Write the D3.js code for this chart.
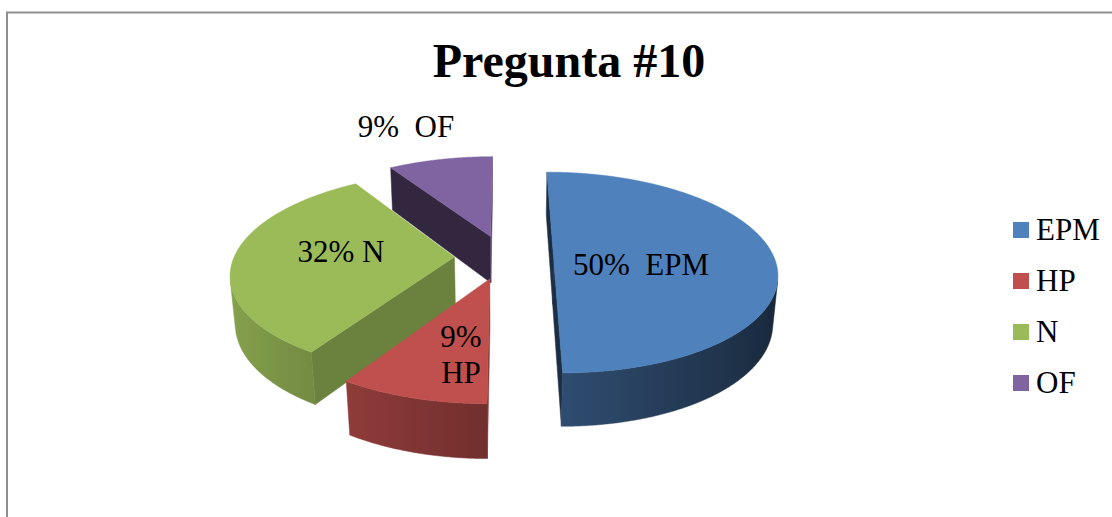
<!DOCTYPE html>
<html>
<head>
<meta charset="utf-8">
<script src="https://cdn.jsdelivr.net/npm/d3@7"></script>
<style>
  html, body { margin: 0; padding: 0; background: #ffffff; overflow: hidden; }
  text { white-space: pre; }
</style>
</head>
<body>
<svg id="chart" width="1112" height="517"></svg>
<script>
// ---- data ----
const categories = ["EPM", "HP", "N", "OF"];
const values = [50, 9, 32, 9];
const colors = ["#4F81BD", "#C0504D", "#9BBB59", "#8064A2"];
const chartTitle = "Pregunta #10";

// ---- layout ----
const W = 1112, H = 517;
const font = "'Liberation Serif', 'Times New Roman', serif";
// camera for the tilted, exploded 3D pie (pie radius = 1 world unit)
const cam = { cx: 504, cy: 257, f: 1278, D: 5.8, elev: 26.4 * Math.PI / 180 };
const thickness = 0.245;   // slab height
const explode = 0.225;     // radial offset of each slice
// data label placement (screen px, text centred) and the text joining % and name
const labelSpots = {
  EPM: { x: 641, y: 275, sep: "  " },
  HP:  { x: 461, y: 347, sep: "\n" },
  N:   { x: 341, y: 262, sep: " " },
  OF:  { x: 406, y: 137, sep: "  " }
};

const svg = d3.select("#chart");

// chart area frame
svg.append("path")
  .attr("d", `M7,${H + 5} V12.5 H${W + 5}`)
  .attr("fill", "none")
  .attr("stroke", "#8f8f8f")
  .attr("stroke-width", 2);

// title
svg.append("text")
  .attr("x", 569).attr("y", 77)
  .attr("text-anchor", "middle")
  .attr("font-family", font)
  .attr("font-weight", "bold")
  .attr("font-size", 48)
  .attr("fill", "#000")
  .text(chartTitle);

// ---- 3D projection ----
const ce = Math.cos(cam.elev), se = Math.sin(cam.elev);
const camPos = [0, cam.D * se, -cam.D * ce];
function project(x, y, z) {
  const up = y * ce + z * se;
  const depth = cam.D + z * ce - y * se;
  return [cam.cx + cam.f * x / depth, cam.cy - cam.f * up / depth];
}
function facing(n, p) {
  return n[0] * (camPos[0] - p[0]) + n[1] * (camPos[1] - p[1]) + n[2] * (camPos[2] - p[2]) > 0;
}
function shade(hex, k) {
  const c = d3.rgb(hex);
  return d3.rgb(c.r * k, c.g * k, c.b * k).formatHex();
}
// lighting of the curved rim and of the flat cut faces (by normal x-component)
const rimShade = nx => 0.59 - 0.29 * nx;
const cutShade = nx => 0.54 + 0.18 * nx;

const line = d3.line().curve(d3.curveLinear);
const defs = svg.append("defs");

const data = categories.map((c, i) => ({ name: c, value: values[i], color: colors[i] }));
const total = d3.sum(values);
const arcs = d3.pie().sort(null).value(d => d.value).startAngle(0).endAngle(2 * Math.PI)(data);

arcs.forEach(a => {
  const mid = (a.startAngle + a.endAngle) / 2;
  a.ox = explode * Math.sin(mid);
  a.oz = explode * Math.cos(mid);
});

// paint back-to-front
const order = arcs.slice().sort((p, q) => q.oz - p.oz);
const gPie = svg.append("g");

order.forEach((a, idx) => {
  const g = gPie.append("g");
  const t0 = a.startAngle, t1 = a.endAngle;
  const steps = Math.max(8, Math.ceil((t1 - t0) / (0.25 * Math.PI / 180)));
  const rim = (t, y) => [a.ox + Math.sin(t), y, a.oz + Math.cos(t)];
  const apexTop = [a.ox, 0, a.oz], apexBot = [a.ox, -thickness, a.oz];
  const P = p => project(p[0], p[1], p[2]);

  // flat cut faces
  const cuts = [
    { t: t0, n: [-Math.cos(t0), 0, Math.sin(t0)] },
    { t: t1, n: [Math.cos(t1), 0, -Math.sin(t1)] }
  ];
  cuts.forEach(cf => {
    const mid = [a.ox + Math.sin(cf.t) / 2, -thickness / 2, a.oz + Math.cos(cf.t) / 2];
    if (!facing(cf.n, mid)) return;
    const pts = [apexTop, rim(cf.t, 0), rim(cf.t, -thickness), apexBot].map(P);
    g.append("path")
      .attr("d", line(pts) + "Z")
      .attr("fill", shade(a.data.color, cutShade(cf.n[0])))
      .attr("stroke", shade(a.data.color, cutShade(cf.n[0])))
      .attr("stroke-width", 0.5);
  });

  // curved outer rim: visible part only
  const vis = [];
  for (let i = 0; i <= steps; i++) {
    const t = t0 + (t1 - t0) * i / steps;
    const n = [Math.sin(t), 0, Math.cos(t)];
    if (facing(n, rim(t, -thickness / 2))) vis.push(t);
  }
  if (vis.length > 1) {
    const top = vis.map(t => P(rim(t, 0)));
    const bot = vis.map(t => P(rim(t, -thickness))).reverse();
    const gid = "rim" + idx;
    const xs = top.map(p => p[0]);
    const x1 = d3.min(xs), x2 = d3.max(xs);
    const stops = vis.map((t, i) => ({
      o: (xs[i] - x1) / Math.max(1e-6, x2 - x1),
      c: shade(a.data.color, rimShade(Math.sin(t)))
    })).sort((p, q) => p.o - q.o);
    const grad = defs.append("linearGradient")
      .attr("id", gid)
      .attr("gradientUnits", "userSpaceOnUse")
      .attr("x1", x1).attr("x2", x2).attr("y1", 0).attr("y2", 0);
    stops.filter((s, i) => i % 10 === 0 || i === stops.length - 1)
      .forEach(s => grad.append("stop").attr("offset", s.o).attr("stop-color", s.c));
    g.append("path")
      .attr("d", line(top.concat(bot)) + "Z")
      .attr("fill", `url(#${gid})`)
      .attr("stroke", `url(#${gid})`)
      .attr("stroke-width", 0.5);
  }

  // top face
  const topPts = [P(apexTop)];
  for (let i = 0; i <= steps; i++) topPts.push(P(rim(t0 + (t1 - t0) * i / steps, 0)));
  g.append("path")
    .attr("d", line(topPts) + "Z")
    .attr("fill", a.data.color)
    .attr("stroke", a.data.color)
    .attr("stroke-width", 0.5);
});

// data labels: percentage and category
const gLab = svg.append("g")
  .attr("font-family", font)
  .attr("font-size", 31)
  .attr("fill", "#000")
  .attr("text-anchor", "middle");
arcs.forEach(a => {
  const spot = labelSpots[a.data.name];
  const pct = Math.round(a.data.value / total * 100) + "%";
  const lines = (pct + spot.sep + a.data.name).split("\n");
  const t = gLab.append("text").attr("x", spot.x).attr("y", spot.y);
  lines.forEach((s, i) => t.append("tspan").attr("x", spot.x).attr("dy", i ? 36 : 0).text(s));
});

// legend
const legend = svg.append("g").attr("transform", "translate(1013,222)");
const item = legend.selectAll("g").data(data).join("g")
  .attr("transform", (d, i) => `translate(0,${i * 51})`);
item.append("rect").attr("width", 16).attr("height", 16).attr("fill", d => d.color);
item.append("text")
  .attr("x", 23).attr("y", 18)
  .attr("font-family", font)
  .attr("font-size", 31)
  .attr("fill", "#000")
  .text(d => d.name);
</script>
</body>
</html>
